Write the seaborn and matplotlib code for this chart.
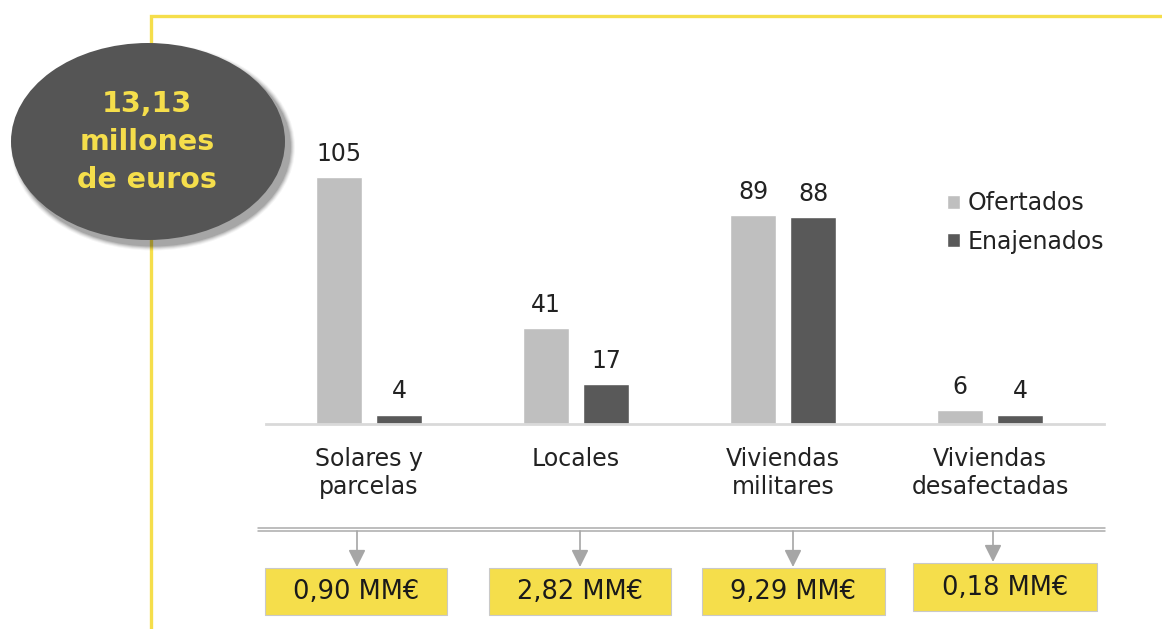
import pandas as pd
import numpy as np
import matplotlib.pyplot as plt
import seaborn as sns
from matplotlib.patches import Ellipse, Rectangle

# datos
categorias = ['Solares y\nparcelas', 'Locales', 'Viviendas\nmilitares', 'Viviendas\ndesafectadas']
ofertados = [105, 41, 89, 6]
enajenados = [4, 17, 88, 4]
importes = ['0,90 MM€', '2,82 MM€', '9,29 MM€', '0,18 MM€']
total_txt = '13,13\nmillones\nde euros'

sns.set_theme(style='white')
plt.rcParams['font.family'] = ['DejaVu Sans']

AMARILLO = '#F5DE4B'
GRIS_CLARO = '#BFBFBF'
GRIS_OSCURO = '#595959'
TXT = '#222222'

df = pd.DataFrame({
    'categoria': categorias * 2,
    'valor': ofertados + enajenados,
    'tipo': ['Ofertados'] * 4 + ['Enajenados'] * 4,
})

W, H = 1162, 629
fig = plt.figure(figsize=(W / 100, H / 100), dpi=100)
fig.patch.set_facecolor('white')


def fx(px):
    return px / W


def fy(py):
    return 1 - py / H


# ejes del grafico (pixeles: x 265-1104, y 130-424)
ax = fig.add_axes([fx(265.5), fy(424), fx(1104 - 265.5), (424 - 130) / H])
sns.barplot(data=df, x='categoria', y='valor', hue='tipo',
            palette=[GRIS_CLARO, GRIS_OSCURO], width=0.58, gap=0.234,
            saturation=1, ax=ax)
ax.set_xlim(-0.5, 3.55)
ax.set_ylim(0, 125.1)
for c in ax.containers:
    ax.bar_label(c, padding=8, fontsize=17, color=TXT)
ax.set_xlabel('')
ax.set_ylabel('')
ax.set_yticks([])
ax.tick_params(axis='x', length=0, pad=16.5, labelsize=17, labelcolor=TXT)
for s in ['top', 'right', 'left']:
    ax.spines[s].set_visible(False)
ax.spines['bottom'].set_color('#D9D9D9')
ax.spines['bottom'].set_linewidth(2)
ax.legend(loc='upper left', bbox_to_anchor=(fx(947), fy(191)),
          bbox_transform=fig.transFigure, frameon=False, fontsize=17,
          handlelength=0.55, handleheight=0.55, handletextpad=0.32,
          labelspacing=0.62, borderaxespad=0, borderpad=0,
          labelcolor=TXT)

# capa decorativa en pixeles
ov = fig.add_axes([0, 0, 1, 1], zorder=5)
ov.set_xlim(0, W)
ov.set_ylim(H, 0)
ov.axis('off')
ov.patch.set_alpha(0)

# marco amarillo
ov.plot([151, 151, W], [H, 16, 16], color=AMARILLO, lw=2.4,
        solid_joinstyle='miter', zorder=1)

# elipse con sombra
for i, a in enumerate([0.04, 0.06, 0.08, 0.1, 0.12]):
    d = 5 - i
    ov.add_patch(Ellipse((153, 147), 274 + 2 * d, 197 + 2 * d,
                         facecolor='black', edgecolor='none', alpha=a, zorder=2))
ov.add_patch(Ellipse((148, 141.5), 274, 197, facecolor='#555555',
                     edgecolor='none', zorder=3))
ov.text(147, 142, total_txt, ha='center', va='center', fontsize=20.5,
        fontweight='bold', color=AMARILLO, linespacing=1.45, zorder=4)

# linea doble inferior
ov.plot([258, 1105], [528, 528], color='#ABABAB', lw=1.1, zorder=1)
ov.plot([258, 1105], [531, 531], color='#ABABAB', lw=1.1, zorder=1)

# flechas y cajas con importes
flechas_x = [357, 580, 793, 993]
cajas = [(265, 568, 182, 47), (489, 568, 182, 47), (702, 568, 183, 47), (913, 563, 184, 48)]
for xa, (bx, by, bw, bh), txt in zip(flechas_x, cajas, importes):
    ov.annotate('', xy=(xa, by - 1), xytext=(xa, 531),
                arrowprops=dict(arrowstyle='-|>', color='#A6A6A6', lw=1.2,
                                mutation_scale=26, shrinkA=0, shrinkB=0),
                zorder=2)
    ov.add_patch(Rectangle((bx, by), bw, bh, facecolor=AMARILLO,
                           edgecolor='#C9C9C9', lw=0.8, zorder=3))
    ov.text(bx + bw / 2, by + bh / 2 + 1, txt, ha='center', va='center',
            fontsize=18.5, color='#1A1A1A', zorder=4)

plt.savefig('out.png', dpi=100)
plt.close()
